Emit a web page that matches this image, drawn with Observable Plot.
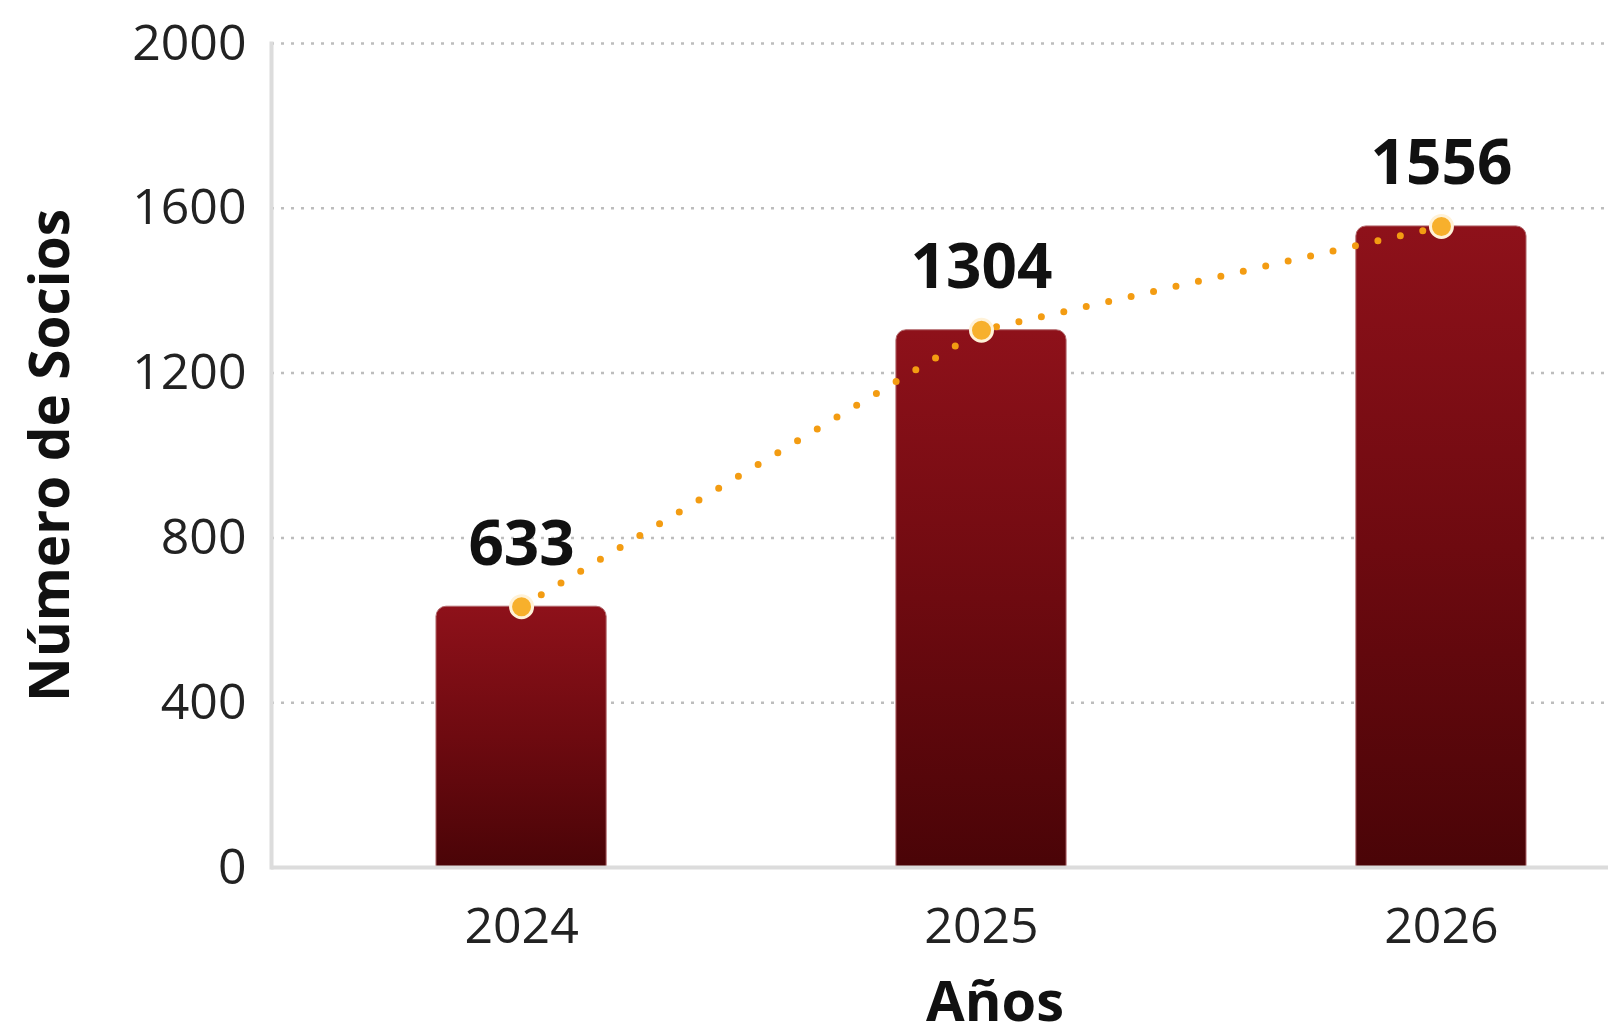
<!DOCTYPE html>
<html>
<head>
<meta charset="utf-8">
<script src="https://cdn.jsdelivr.net/npm/d3@7"></script>
<script src="https://cdn.jsdelivr.net/npm/@observablehq/plot@0.6"></script>
<style>
  html, body { margin: 0; padding: 0; background: #ffffff; }
  #chart svg { display: block; }
</style>
</head>
<body>
<div id="chart"></div>
<script>
const years = ["2024", "2025", "2026"];
const socios = [633, 1304, 1556];
const yTicks = [0, 400, 800, 1200, 1600, 2000];
const yLabel = "Número de Socios";
const xLabel = "Años";

const data = years.map((year, i) => ({ year, socios: socios[i] }));

const chart = Plot.plot({
  width: 1608,
  height: 1036,
  marginLeft: 271,
  marginRight: 0,
  marginTop: 43,
  marginBottom: 169,
  style: { background: "#ffffff", fontFamily: "'Open Sans', sans-serif", color: "#222" },
  x: { type: "band", domain: years, range: [271, 1691], paddingInner: 0.63, paddingOuter: 0.3587, align: 0.5, round: false },
  y: { domain: [0, 2000] },
  marks: [
    Plot.gridY(yTicks.filter(d => d > 0), { stroke: "#bdbdbd", strokeOpacity: 1, strokeWidth: 2.5, strokeDasharray: "3,7" }),
    Plot.barY(data, { x: "year", y: "socios", fill: "url(#barGrad)", stroke: "#b36a6e", strokeWidth: 1, ry1: 10 }),
    Plot.ruleY([0], { stroke: "#dcdcdc", strokeWidth: 4 }),
    Plot.frame({ anchor: "left", stroke: "#dcdcdc", strokeWidth: 4 }),
    Plot.line(data, { x: "year", y: "socios", stroke: "#f39c12", strokeWidth: 7, strokeDasharray: "0,23", strokeLinecap: "round" }),
    Plot.dot(data, { x: "year", y: "socios", r: 11, fill: "#f7b02c", stroke: "#fff2d8", strokeWidth: 3 }),
    Plot.text(data, { x: "year", y: "socios", text: d => String(d.socios), dy: -42, lineAnchor: "bottom", fontSize: 62, fontWeight: 700, fill: "#111" }),
    Plot.axisY({ ticks: yTicks, tickFormat: d => String(d), tickSize: 0, tickPadding: 25, fontSize: 50, fill: "#222", label: null }),
    Plot.axisX({ tickSize: 0, tickPadding: 40, fontSize: 50, fill: "#222", label: null }),
    Plot.text([yLabel], { frameAnchor: "left", textAnchor: "middle", lineAnchor: "middle", rotate: -90, dx: -220, fontSize: 55, fontWeight: 700, fill: "#111" }),
    Plot.text([xLabel], { frameAnchor: "bottom", dy: 153, dx: 55, fontSize: 56, fontWeight: 700, fill: "#111" })
  ]
});

d3.select(chart).insert("defs", ":first-child").html(`
  <linearGradient id="barGrad" x1="0" y1="0" x2="0" y2="1">
    <stop offset="0" stop-color="#8e111a"/>
    <stop offset="0.5" stop-color="#6e0a10"/>
    <stop offset="1" stop-color="#4a0407"/>
  </linearGradient>
`);

document.getElementById("chart").appendChild(chart);
</script>
</body>
</html>
